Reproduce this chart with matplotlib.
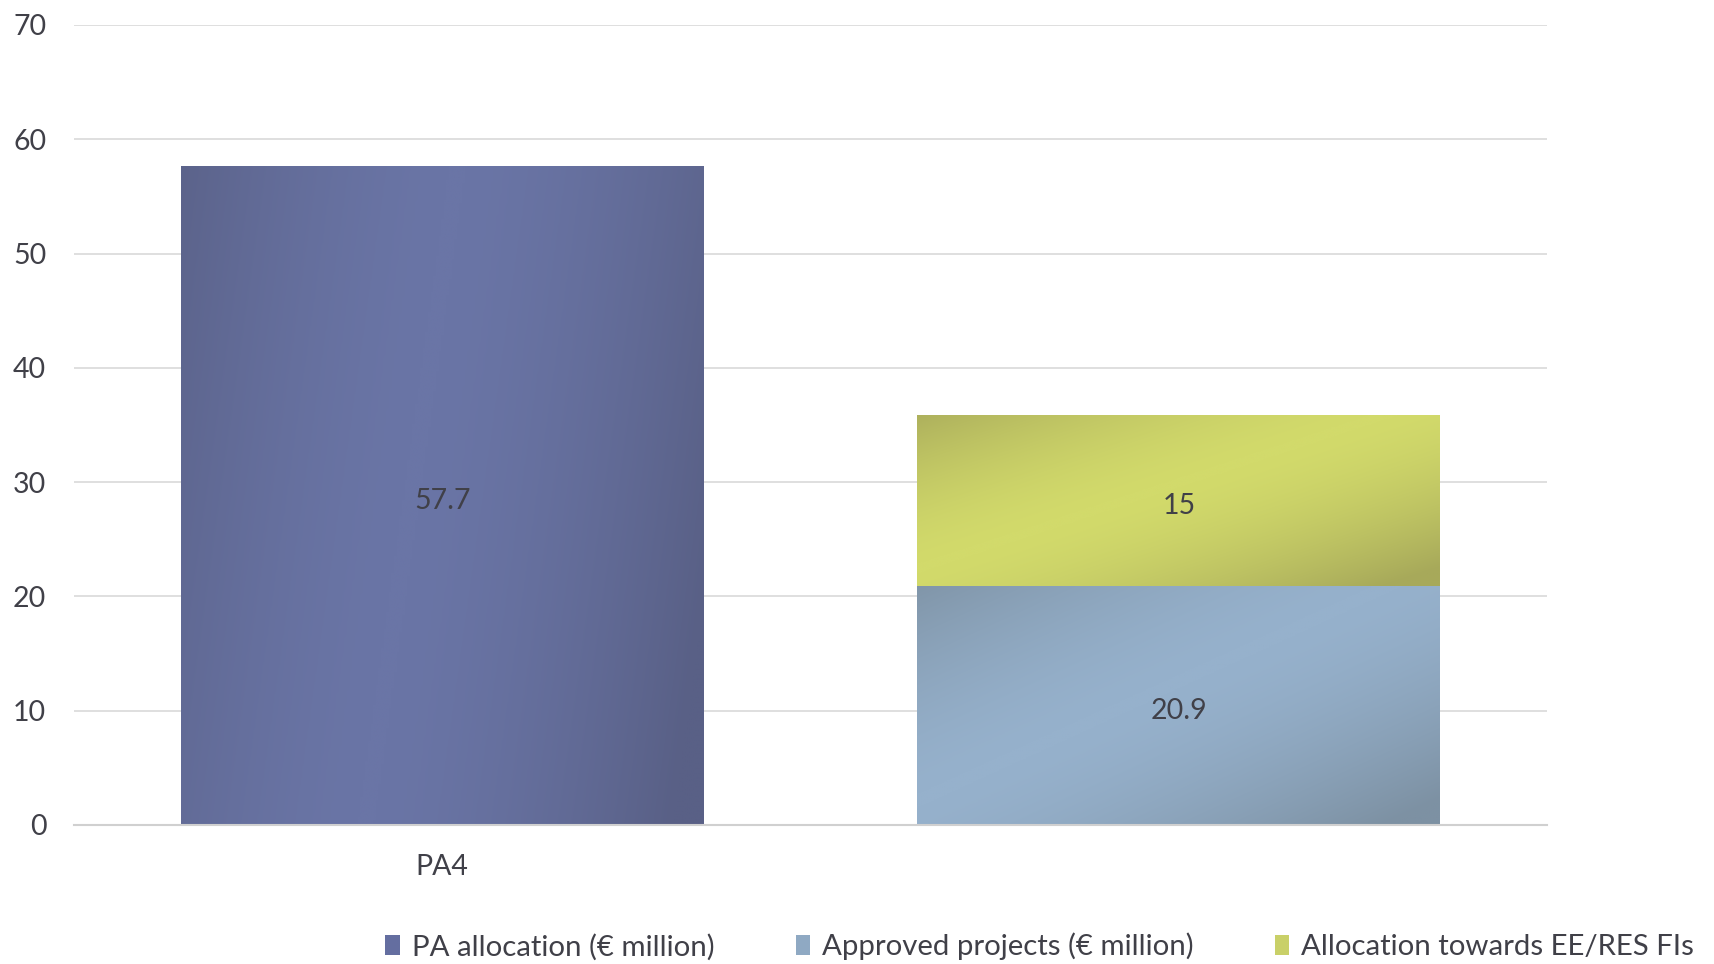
import numpy as np
import matplotlib
matplotlib.use('Agg')
import matplotlib.pyplot as plt
from matplotlib.colors import LinearSegmentedColormap

plt.rcParams['font.family'] = ['Lato', 'DejaVu Sans']

# chart data
categories = ['PA4', '']
pa_allocation = [57.7, 0]
approved = [0, 20.9]
ee_res = [0, 15]
series_names = ['PA allocation (€ million)', 'Approved projects (€ million)',
                'Allocation towards EE/RES FIs']

text_col = '#404048'
# (edge colour, centre colour) for the shaded fills
shades = [('#596086', '#6a75a6'), ('#7d91a3', '#96b1cc'), ('#a7a95a', '#d2da6b')]
base_cols = ['#646ea0', '#8fa9c3', '#c9d068']

fig = plt.figure(figsize=(17.14, 9.64), dpi=100)
ax = fig.add_axes([0.0432, 0.1442, 0.8594, 0.8299])

x = np.arange(len(categories))
w = 0.71
b1 = ax.bar(x, pa_allocation, w, color=base_cols[0], label=series_names[0], zorder=2)
b2 = ax.bar(x, approved, w, color=base_cols[1], label=series_names[1], zorder=2)
b3 = ax.bar(x, ee_res, w, bottom=approved, color=base_cols[2], label=series_names[2], zorder=2)

# gradient overlays clipped to each bar
n = 200
u, v = np.meshgrid(np.linspace(0, 1, n), np.linspace(1, 0, n))
for bars, (edge, centre), diag in zip([b1, b2, b3], shades, [False, True, True]):
    cmap = LinearSegmentedColormap.from_list('g', [edge, centre])
    for p in bars:
        if p.get_height() <= 0:
            continue
        if diag:
            t = (u + (1 - v)) / 2
        else:
            t = 0.85 * u + 0.15 * (1 - v)
        val = 1 - np.abs(2 * t - 0.9) ** 1.6
        val = np.clip(val, 0, 1)
        x0, y0 = p.get_x(), p.get_y()
        im = ax.imshow(val, cmap=cmap, vmin=0, vmax=1, aspect='auto',
                       extent=[x0, x0 + p.get_width(), y0, y0 + p.get_height()],
                       zorder=3, interpolation='bilinear')
        im.set_clip_path(p)

# value labels
for bars in [b1, b2, b3]:
    for p in bars:
        if p.get_height() <= 0:
            continue
        val = p.get_height()
        lab = f'{val:g}'
        ax.text(p.get_x() + p.get_width() / 2, p.get_y() + val / 2 - 0.5, lab,
                ha='center', va='center', fontsize=20.5, color=text_col, zorder=5)

ax.set_xlim(-0.5, 1.5)
ax.set_ylim(0, 70)
ax.set_yticks(np.arange(0, 71, 10))
ax.set_xticks(x)
ax.set_xticklabels(categories)
ax.tick_params(axis='y', length=0, pad=20, labelsize=20.5, labelcolor=text_col)
ax.tick_params(axis='x', length=0, pad=21, labelsize=20.5, labelcolor=text_col)
ax.grid(axis='y', color='#dcdcdc', linewidth=1.3, zorder=0)
ax.set_axisbelow(True)
for s in ['top', 'right', 'left']:
    ax.spines[s].set_visible(False)
ax.spines['bottom'].set_color('#d0d0d0')
ax.spines['bottom'].set_linewidth(1.5)
ax.spines['bottom'].set_zorder(4)

handles = [b1, b2, b3]
fig.legend(handles, series_names, loc='center left', bbox_to_anchor=(0.218, 0.018),
           ncol=3, frameon=False, fontsize=21.2, handlelength=0.5, handleheight=0.7,
           handletextpad=0.4, columnspacing=2.75, labelcolor=text_col, borderaxespad=0)

fig.savefig('out.png', dpi=100)
